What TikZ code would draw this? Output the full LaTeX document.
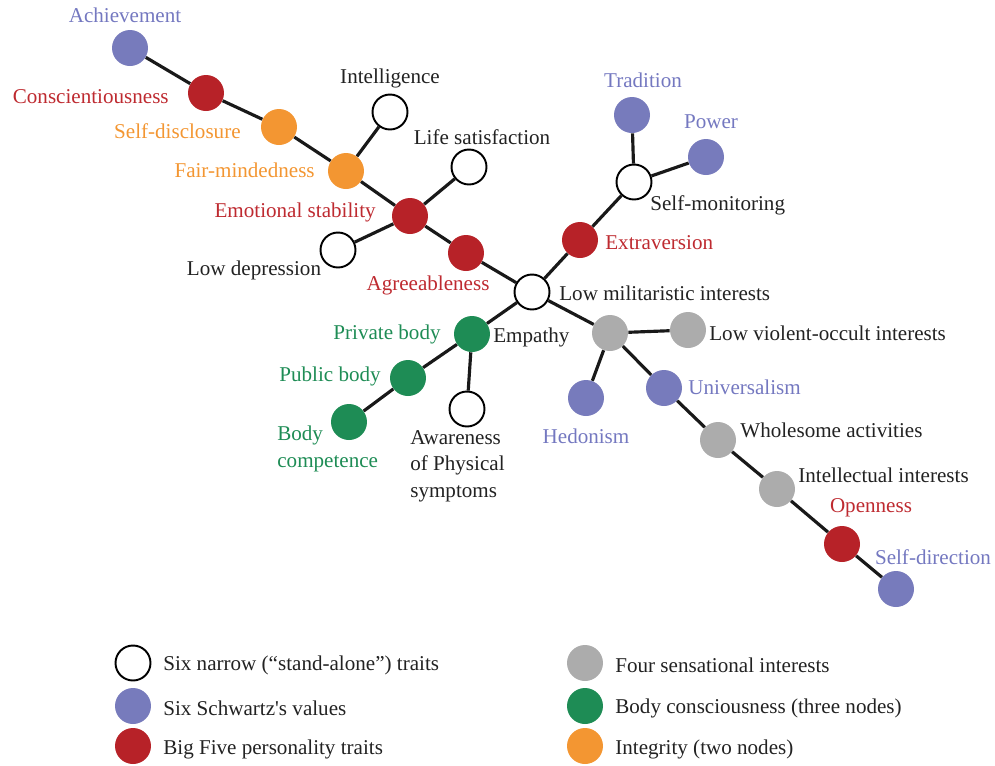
\documentclass[tikz,border=0pt]{standalone}
\usepackage{fontspec}
\setmainfont{Liberation Serif}
\definecolor{cblue}{HTML}{777BBC}
\definecolor{cred}{HTML}{B72228}
\definecolor{corange}{HTML}{F39632}
\definecolor{cgreen}{HTML}{1E8C55}
\definecolor{cgray}{HTML}{ACACAC}
\definecolor{tblue}{HTML}{7478C0}
\definecolor{tred}{HTML}{BE2A30}
\definecolor{torange}{HTML}{F39632}
\definecolor{tgreen}{HTML}{1E8C55}
\definecolor{tdark}{HTML}{222222}
\usetikzlibrary{shapes.geometric}
\tikzset{
  nd/.style={circle,minimum size=0.72cm,inner sep=0pt,draw=none},
  wn/.style={nd,draw=black,line width=1.1pt,fill=white,minimum size=0.7cm},
  bn/.style={nd,fill=cblue},
  rn/.style={nd,fill=cred},
  on/.style={nd,fill=corange},
  gn/.style={nd,fill=cgreen},
  yn/.style={nd,fill=cgray},
  lab/.style={inner sep=0pt,font=\fontsize{12}{15.2}\selectfont},
  edge/.style={line width=1.8pt,black!90},
  legt/.style={inner sep=0pt,anchor=west,font=\fontsize{12}{14}\selectfont}
}
\begin{document}
\begin{tikzpicture}[x=0.02cm,y=-0.02cm]
\useasboundingbox (0,0) rectangle (995,765);
% nodes
\node[bn] (ach) at (130,48) {};
\node[rn] (con) at (206,93) {};
\node[on] (sd) at (279,127) {};
\node[on] (fm) at (346,171) {};
\node[wn] (int) at (390,112) {};
\node[wn] (ls) at (469,167) {};
\node[rn] (es) at (410,216) {};
\node[wn] (ld) at (338,250) {};
\node[rn] (agr) at (466,253) {};
\node[wn] (emp) at (532,292) {};
\node[rn] (ext) at (580,240) {};
\node[wn] (sm) at (634,182) {};
\node[bn] (tra) at (632,115) {};
\node[bn] (pow) at (706,157) {};
\node[gn] (pb) at (472,334) {};
\node[gn] (pub) at (408,378) {};
\node[gn] (bc) at (349,422) {};
\node[wn] (aw) at (467,409) {};
\node[yn] (lm) at (610,333) {};
\node[yn] (lv) at (688,330) {};
\node[bn] (hed) at (586,398) {};
\node[bn] (uni) at (664,388) {};
\node[yn] (wa) at (718,440) {};
\node[yn] (ii) at (777,489) {};
\node[rn] (ope) at (842,544) {};
\node[bn] (sdir) at (896,589) {};
% edges
\draw[edge] (ach) -- (con);
\draw[edge] (con) -- (sd);
\draw[edge] (sd) -- (fm);
\draw[edge] (fm) -- (es);
\draw[edge] (fm) -- (int);
\draw[edge] (es) -- (ls);
\draw[edge] (es) -- (ld);
\draw[edge] (es) -- (agr);
\draw[edge] (agr) -- (emp);
\draw[edge] (emp) -- (ext);
\draw[edge] (ext) -- (sm);
\draw[edge] (sm) -- (tra);
\draw[edge] (sm) -- (pow);
\draw[edge] (emp) -- (pb);
\draw[edge] (pb) -- (pub);
\draw[edge] (pub) -- (bc);
\draw[edge] (pb) -- (aw);
\draw[edge] (emp) -- (lm);
\draw[edge] (lm) -- (lv);
\draw[edge] (lm) -- (hed);
\draw[edge] (lm) -- (uni);
\draw[edge] (uni) -- (wa);
\draw[edge] (wa) -- (ii);
\draw[edge] (ii) -- (ope);
\draw[edge] (ope) -- (sdir);
% labels
\node[lab,text=tblue] (lach) at (125,15) {Achievement};
\node[lab,text=tred,anchor=east] (lcon) at (169,97) {Conscientiousness};
\node[lab,text=torange,anchor=east] (lsd) at (241,131) {Self-disclosure};
\node[lab,text=torange,anchor=east] (lfm) at (315,170) {Fair-mindedness};
\node[lab,text=tdark] (lint) at (390,78) {Intelligence};
\node[lab,text=tdark] (lls) at (482,137) {Life satisfaction};
\node[lab,text=tred,anchor=east] (les) at (376,212) {Emotional stability};
\node[lab,text=tdark] (lld) at (254,270) {Low depression};
\node[lab,text=tred] (lagr) at (428,285) {Agreeableness};
\node[lab,text=tdark,anchor=west] (llm) at (559,293) {Low militaristic interests};
\node[lab,text=tred,anchor=west] (lext) at (605,243) {Extraversion};
\node[lab,text=tdark,anchor=west] (lsm) at (650,205) {Self-monitoring};
\node[lab,text=tblue] (ltra) at (643,80) {Tradition};
\node[lab,text=tblue] (lpow) at (711,122) {Power};
\node[lab,text=tgreen] (lpb) at (387,334) {Private body};
\node[lab,text=tdark,anchor=west] (lemp) at (493,337) {Empathy};
\node[lab,text=tgreen] (lpub) at (330,376) {Public body};
\node[lab,text=tgreen,anchor=north west,align=left] (lbc) at (277,426) {Body\\competence};
\node[lab,text=tdark,anchor=north west,align=left] (law) at (410,430) {Awareness\\of Physical\\symptoms};
\node[lab,text=tdark,anchor=west] (llv) at (709,333) {Low violent-occult interests};
\node[lab,text=tblue] (lhed) at (586,436) {Hedonism};
\node[lab,text=tblue,anchor=west] (luni) at (688,387) {Universalism};
\node[lab,text=tdark,anchor=west] (lwa) at (740,430) {Wholesome activities};
\node[lab,text=tdark,anchor=west] (lii) at (798,475) {Intellectual interests};
\node[lab,text=tred] (lope) at (871,508) {Openness};
\node[lab,text=tblue] (lsdir) at (933,557) {Self-direction};
% legend
\node[wn] (k1) at (133,663) {};
\node[bn] (k2) at (133,706) {};
\node[rn] (k3) at (133,746) {};
\node[yn] (k4) at (585,663) {};
\node[gn] (k5) at (585,706) {};
\node[on] (k6) at (585,746) {};
\node[legt,text=tdark] (t1) at (163,665) {Six narrow (“stand-alone”) traits};
\node[legt,text=tdark] (t2) at (163,708) {Six Schwartz\textquotesingle s values};
\node[legt,text=tdark] (t3) at (163,749) {Big Five personality traits};
\node[legt,text=tdark] (t4) at (615,665) {Four sensational interests};
\node[legt,text=tdark] (t5) at (615,708) {Body consciousness (three nodes)};
\node[legt,text=tdark] (t6) at (615,749) {Integrity (two nodes)};
\end{tikzpicture}
\end{document}
